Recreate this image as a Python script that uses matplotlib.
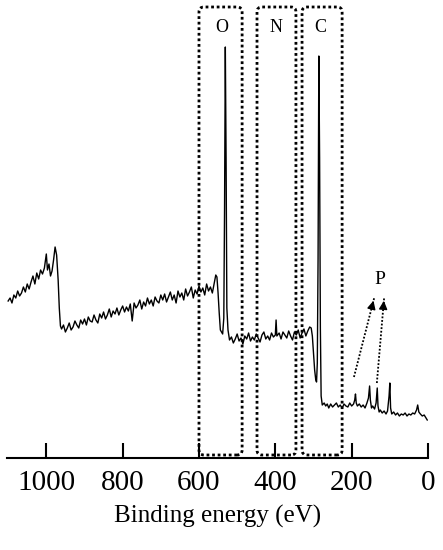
import matplotlib
matplotlib.use("Agg")
import matplotlib.pyplot as plt
from matplotlib.patches import FancyBboxPatch

# Binding energy (eV) and intensity (arb. units)
energy = [1100, 1095, 1090, 1085, 1080, 1075, 1070, 1065, 1060, 1055, 1050, 1045, 1040, 1035, 1030,
          1025, 1020, 1015, 1010, 1005, 1000, 997, 993, 989, 985, 981, 977, 973, 969, 966, 963,
          960, 955, 950, 945, 940, 935, 930, 925, 920, 915, 910, 905, 900, 895, 890, 885, 880, 875,
          870, 865, 860, 855, 850, 845, 840, 835, 830, 825, 820, 815, 810, 805, 800, 795, 790, 785,
          780, 775, 770, 765, 760, 755, 750, 745, 740, 735, 730, 725, 720, 715, 710, 705, 700, 695,
          690, 685, 680, 675, 670, 665, 660, 655, 650, 645, 640, 635, 630, 625, 620, 615, 610, 605,
          600, 595, 590, 585, 580, 575, 570, 565, 560, 556, 553, 550, 547, 544, 541, 538, 535, 533,
          531, 529, 527, 524,
          520, 515, 510, 505, 500, 495, 490, 485, 480, 475, 470, 465, 460, 455, 450, 445, 440, 435,
          430, 425, 420, 415, 410, 405, 400, 398, 396, 390, 385, 380, 375, 370, 365, 360, 355, 350,
          345, 340, 335, 330, 325, 320, 315, 310, 306, 303, 300, 297, 294, 292, 290, 288, 286, 284,
          282, 280, 277,
          272, 268, 264, 260, 255, 250, 245, 240, 235, 230, 225, 220, 215, 210, 205, 200, 195, 192,
          190, 188, 185, 180, 175, 170, 165, 160, 156, 153, 151, 148, 145, 140, 136, 133, 131, 128,
          125, 120, 115, 110, 106, 102, 100, 98, 95, 90, 85, 80, 75, 70, 65, 60, 55, 50, 45, 40,
          35, 30, 27, 24, 20, 15, 10, 5, 2]
intensity = [157, 160, 155, 163, 160, 167, 162, 165, 171, 166, 174, 169, 176, 182, 174,
             185, 179, 188, 184, 190, 204, 188, 194, 182, 187, 198, 211, 203, 178, 150, 132,
             129, 133, 126, 130, 135, 128, 131, 137, 133, 130, 138, 134, 139, 133, 141, 137, 136, 143,
             138, 135, 144, 140, 146, 139, 143, 149, 141, 147, 144, 150, 143, 148, 152, 146, 151, 147,
             154, 137, 155, 150, 153, 158, 149, 156, 152, 160, 154, 158, 152, 161, 157, 155, 163, 158,
             164, 156, 161, 166, 158, 163, 155, 167, 161, 165, 158, 169, 162, 166, 171, 160, 168, 164,
             172, 166, 170, 163, 174, 167, 171, 165, 175, 183, 181, 165, 145, 128, 126, 124, 140, 250,
             411, 300, 150, 128,
             118, 121, 115, 119, 124, 117, 120, 114, 122, 119, 125, 117, 121, 118, 124, 120, 116, 123,
             126, 119, 122, 118, 125, 121, 123, 138, 122, 125, 119, 126, 123, 120, 127, 122, 118, 126,
             123, 128, 120, 125, 129, 122, 127, 131, 130, 122, 105, 88, 78, 76, 95, 200, 402, 300,
             130, 62, 53,
             55, 52, 54, 50, 54, 51, 53, 55, 51, 53, 50, 54, 52, 51, 55, 52, 54, 58,
             64, 55, 52, 54, 51, 53, 50, 55, 60, 72, 58, 50, 52, 49, 55, 70, 52, 46,
             48, 45, 47, 44, 47, 62, 75, 50, 44, 46, 43, 45, 42, 44, 43, 45, 42, 44, 43, 45,
             44, 48, 53, 46, 44, 42, 43, 40, 38]

# Element boxes: (label, high eV, low eV)
box_labels = ["O", "N", "C"]
box_high = [600, 448, 330]
box_low = [487, 346, 225]
label_energy = [540, 398, 283]

xticks = [1000, 800, 600, 400, 200, 0]

serif = ["Liberation Serif", "DejaVu Serif"]

fig = plt.figure(figsize=(4.43, 5.5), dpi=100)
ax = fig.add_axes([7 / 443, 92 / 550, 421 / 443, 458 / 550])
ax.plot(energy, intensity, color="black", lw=1.0)
ax.set_xlim(1103, 0)
ax.set_ylim(0, 458)

for s in ["left", "right", "top"]:
    ax.spines[s].set_visible(False)
ax.spines["bottom"].set_linewidth(1.5)
ax.set_yticks([])
ax.set_xticks(xticks)
ax.set_xticklabels([str(t) for t in xticks], fontsize=21, family=serif)
ax.tick_params(axis="x", direction="in", length=11, width=1.5, pad=9)
ax.set_xlabel("Binding energy (eV)", fontsize=18, family=serif, labelpad=6)

px_per_ev = 421 / 1103
for lab, hi, lo, le in zip(box_labels, box_high, box_low, label_energy):
    p = FancyBboxPatch((lo, 3), hi - lo, 448,
                       boxstyle="round,pad=0,rounding_size=%f" % (5 / px_per_ev),
                       mutation_aspect=px_per_ev,
                       fill=False, ec="black", lw=2.0, ls=(0, (1, 1)), zorder=3)
    ax.add_patch(p)
    ax.text(le, 430, lab, ha="center", va="center", fontsize=13, family=serif)

ax.text(126, 178, "P", ha="center", va="center", fontsize=14, family=serif)
arrows = [((194, 81), (141, 160)), ((134, 75), (115, 160))]
for (x0, y0), (x1, y1) in arrows:
    ax.plot([x0, x1], [y0, y1], color="black", lw=1.3, ls=(0, (1, 1)))
    ax.annotate("", xy=(x1, y1), xytext=(x0 + (x1 - x0) * 0.9, y0 + (y1 - y0) * 0.9),
                arrowprops=dict(arrowstyle="-|>,head_length=0.5,head_width=0.25",
                                color="black", lw=1))

fig.savefig("out.png", dpi=100)
